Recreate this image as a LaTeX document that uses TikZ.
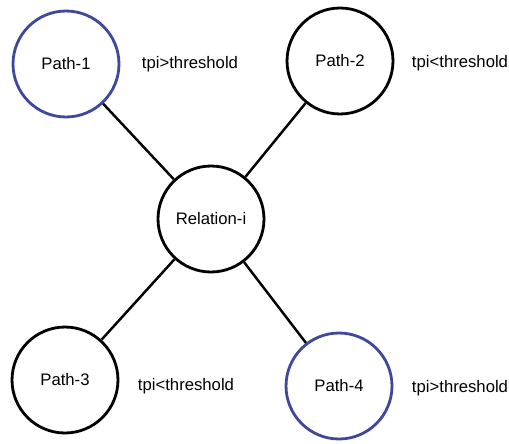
\documentclass[tikz,border=0pt]{standalone}
\usepackage{fontspec}
\setmainfont{Liberation Sans}
\usepackage{tikz}

\definecolor{pathblue}{RGB}{64,72,155}

\begin{document}
\begin{tikzpicture}[x=0.02cm,y=-0.02cm,
    vertex/.style={circle,draw,line width=1.6pt,minimum size=2.12cm,inner sep=0pt,font=\fontsize{9.5}{11}\selectfont},
    chosen/.style={vertex,draw=pathblue},
    link/.style={line width=1.4pt},
    cond/.style={font=\fontsize{9.5}{11}\selectfont}]
      \useasboundingbox (0,0) rectangle (509,443);
      \node[vertex] (rel) at (211,219) {Relation-i};
      \node[chosen] (p1) at (66,64) {Path-1};
      \node[vertex] (p2) at (340,61) {Path-2};
      \node[vertex] (p3) at (65,380) {Path-3};
      \node[chosen] (p4) at (339,386) {Path-4};
      \draw[link] (rel) -- (p1);
      \draw[link] (rel) -- (p2);
      \draw[link] (rel) -- (p3);
      \draw[link] (rel) -- (p4);
      \node[cond] (c1) at (190,64) {tpi>threshold};
      \node[cond] (c2) at (460,63) {tpi<threshold};
      \node[cond] (c3) at (186,386) {tpi<threshold};
      \node[cond] (c4) at (460,388) {tpi>threshold};
\end{tikzpicture}
\end{document}
